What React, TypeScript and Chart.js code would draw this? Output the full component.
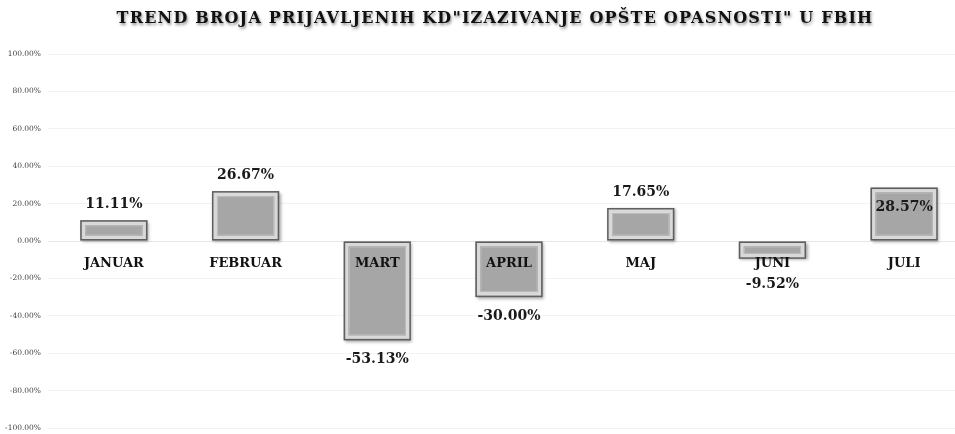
import React, { useEffect, useRef } from 'react';
import { Chart, registerables } from 'chart.js';

Chart.register(...registerables);

const TITLE = 'TREND BROJA PRIJAVLJENIH KD"IZAZIVANJE OPŠTE OPASNOSTI" U FBIH';
const MONTHS = ['JANUAR', 'FEBRUAR', 'MART', 'APRIL', 'MAJ', 'JUNI', 'JULI'];
const TREND = [11.11, 26.67, -53.13, -30.0, 17.65, -9.52, 28.57];
const Y_MIN = -100;
const Y_MAX = 100;
const Y_STEP = 20;
const INSIDE_LABELS = ['JULI'];

const fmt = (v: number) => v.toFixed(2) + '%';
const SERIF = '"DejaVu Serif", "Liberation Serif", serif';

const barStyle = {
  id: 'barStyle',
  beforeDatasetsDraw(chart: any) {
    const ctx = chart.ctx;
    const meta = chart.getDatasetMeta(0);
    ctx.save();
    ctx.shadowColor = 'rgba(0,0,0,0.35)';
    ctx.shadowBlur = 3;
    ctx.shadowOffsetX = 1.5;
    ctx.shadowOffsetY = 1.5;
    ctx.fillStyle = '#888888';
    meta.data.forEach((el: any) => {
      const { x, y, base, width } = el.getProps(['x', 'y', 'base', 'width'], true);
      const top = Math.min(y, base);
      const h = Math.abs(base - y);
      ctx.fillRect(x - width / 2, top, width, h);
    });
    ctx.restore();
  },
  afterDatasetsDraw(chart: any) {
    const ctx = chart.ctx;
    const meta = chart.getDatasetMeta(0);
    const zeroY = chart.scales.y.getPixelForValue(0);
    ctx.save();
    meta.data.forEach((el: any) => {
      const { x, y, base, width } = el.getProps(['x', 'y', 'base', 'width'], true);
      const top = Math.min(y, base);
      const h = Math.abs(base - y);
      ctx.strokeStyle = '#bdbdbd';
      ctx.lineWidth = 1;
      ctx.strokeRect(x - width / 2 + 5.5, top + 5.5, Math.max(width - 11, 0), Math.max(h - 11, 0));
      ctx.strokeStyle = '#5f5f5f';
      ctx.lineWidth = 1.5;
      ctx.strokeRect(x - width / 2 + 0.75, top + 0.75, width - 1.5, h - 1.5);
    });
    ctx.fillStyle = '#1a1a1a';
    ctx.font = 'bold 14px ' + SERIF;
    ctx.textAlign = 'center';
    ctx.textBaseline = 'middle';
    meta.data.forEach((el: any, i: number) => {
      const v = TREND[i];
      const { x, y } = el.getProps(['x', 'y'], true);
      let ly: number;
      if (INSIDE_LABELS.includes(MONTHS[i])) {
        ly = y + 20;
      } else if (v >= 0) {
        ly = y - 16;
      } else {
        ly = Math.max(y + 19, zeroY + 43);
      }
      ctx.fillText(fmt(v), x, ly);
    });
    ctx.restore();
  },
  afterDraw(chart: any) {
    const ctx = chart.ctx;
    ctx.save();
    ctx.font = 'bold 16px ' + SERIF;
    try {
      (ctx as any).letterSpacing = '1.2px';
    } catch (e) {}
    ctx.textAlign = 'center';
    ctx.textBaseline = 'middle';
    ctx.shadowColor = 'rgba(0,0,0,0.45)';
    ctx.shadowBlur = 3;
    ctx.shadowOffsetX = 1;
    ctx.shadowOffsetY = 2;
    ctx.fillStyle = '#111111';
    ctx.fillText(TITLE, 495, 19);
    ctx.restore();
  },
};

export default function App() {
  const ref = useRef<HTMLCanvasElement | null>(null);

  useEffect(() => {
    if (!ref.current) return;
    const chart = new Chart(ref.current, {
      type: 'bar',
      data: {
        labels: MONTHS,
        datasets: [
          {
            data: TREND,
            backgroundColor: '#a6a6a6',
            borderColor: '#d9d9d9',
            borderWidth: 5,
            borderSkipped: false,
            categoryPercentage: 1,
            barPercentage: 0.51,
          },
        ],
      },
      options: {
        animation: false,
        responsive: false,
        maintainAspectRatio: false,
        layout: { padding: { top: 54, bottom: 6, left: 0, right: 0 } },
        plugins: {
          legend: { display: false },
          tooltip: { enabled: false },
          title: { display: false },
        },
        scales: {
          x: {
            position: { y: 0 } as any,
            afterFit: (scale: any) => {
              scale.height = 0;
              scale.paddingTop = 0;
              scale.paddingBottom = 0;
              scale.paddingLeft = 0;
              scale.paddingRight = 0;
            },
            grid: { display: false, drawTicks: false },
            border: { display: false },
            ticks: {
              z: 1,
              color: '#111111',
              padding: 15,
              font: { family: SERIF, size: 13, weight: 'bold' },
            },
          },
          y: {
            min: Y_MIN,
            max: Y_MAX,
            afterFit: (scale: any) => {
              scale.width = 48;
              scale.paddingTop = 0;
              scale.paddingBottom = 0;
            },
            ticks: {
              stepSize: Y_STEP,
              color: '#404040',
              padding: 7,
              font: { family: SERIF, size: 7.5 },
              callback: (v: any) => fmt(Number(v)),
            },
            grid: {
              drawTicks: false,
              color: (c: any) => (c.tick && c.tick.value === 0 ? '#e6e6e6' : '#f3f3f3'),
            },
            border: { display: false },
          },
        },
      },
      plugins: [barStyle],
    });
    return () => chart.destroy();
  }, []);

  return (
    <div
      style={{
        position: 'fixed',
        left: 0,
        top: 0,
        width: 955,
        height: 434,
        overflow: 'hidden',
        background: '#ffffff',
      }}
    >
      <canvas ref={ref} width={970} height={434} style={{ display: 'block' }} />
    </div>
  );
}
